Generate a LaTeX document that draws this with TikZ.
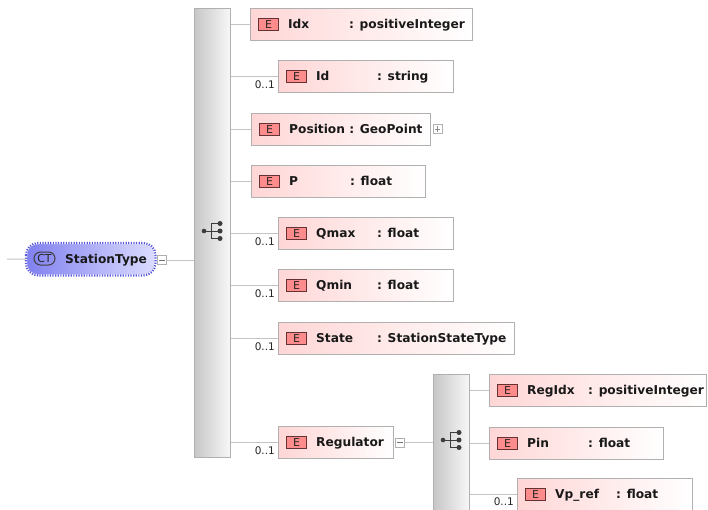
\documentclass[tikz,border=0pt]{standalone}
\usepackage{fontspec}
\setmainfont{DejaVu Sans}
\definecolor{pinkL}{RGB}{255,214,214}
\definecolor{boxline}{RGB}{176,176,176}
\definecolor{connc}{RGB}{196,196,196}
\definecolor{badgef}{RGB}{255,140,140}
\definecolor{badged}{RGB}{100,50,50}
\definecolor{ctL}{RGB}{128,128,240}
\definecolor{ctR}{RGB}{220,220,255}
\definecolor{ctB}{RGB}{90,90,220}
\definecolor{icon}{RGB}{60,60,60}
\newcommand\elemx[6]{%
  \node[elbox, minimum width=#4pt, anchor=north west] (#1) at (#2,#3) {};
  \node[ebadge, anchor=west] (#1E) at ([xshift=8]#1.west) {E};
  \node[elname, anchor=west] (#1N) at ([xshift=38]#1.west) {#5};
  \node[elname, anchor=west] (#1T) at ([xshift=99]#1.west) {#6};
}
\newcommand\elemone[5]{%
  \node[elbox, minimum width=#4pt, anchor=north west] (#1) at (#2,#3) {};
  \node[ebadge, anchor=west] (#1E) at ([xshift=8]#1.west) {E};
  \node[elname, anchor=west] (#1N) at ([xshift=38]#1.west) {#5};
}
\begin{document}
\begin{tikzpicture}[x=1pt,y=-1pt,
  conn/.style={draw=connc, line width=1pt},
  elbox/.style={draw=boxline, line width=1pt, left color=pinkL, right color=white, minimum height=32pt, inner sep=0pt},
  ebadge/.style={draw=badged, line width=1pt, fill=badgef, minimum width=20pt, minimum height=12pt, inner sep=0pt, font=\fontsize{11}{11}\selectfont, text=black!85},
  elname/.style={inner sep=0pt, font=\fontsize{12.2}{13}\selectfont\bfseries, text height=8.9pt, text depth=0pt, text=black!90},
  card/.style={inner sep=0pt, font=\fontsize{10.5}{10.5}\selectfont, text=black!85, anchor=base east},
  seqbar/.style={draw=boxline, line width=1pt, left color=black!22, right color=black!3, minimum width=36pt, inner sep=0pt, anchor=north west},
  expbox/.style={draw=boxline, line width=0.8pt, fill=white, minimum width=9pt, minimum height=9pt, inner sep=0pt},
  seqicon/.pic={
    \draw[icon, line width=1pt] (-8,0) -- (8,0);
    \draw[icon, line width=1pt] (-1,-7.5) -- (-1,7.5);
    \draw[icon, line width=1pt] (-1,-7.5) -- (8,-7.5);
    \draw[icon, line width=1pt] (-1,7.5) -- (8,7.5);
    \fill[icon] (-8,0) circle (2.3pt);
    \fill[icon] (8,-7.5) circle (2.5pt);
    \fill[icon] (8,0) circle (2.5pt);
    \fill[icon] (8,7.5) circle (2.5pt);
  }]
\useasboundingbox (0,0) rectangle (708,509);
\fill[white] (0,0) rectangle (708,509);
\clip (0,0) rectangle (708,509);

% root
\coordinate (in) at (7,259);
\node[rounded corners=12pt, left color=ctL, right color=ctR, minimum width=129pt, minimum height=32pt, inner sep=0pt, anchor=north west] (st) at (26,243) {};
\draw[white, line width=2.2pt, rounded corners=12pt] (st.north west) rectangle (st.south east);
\draw[ctB, line width=2.2pt, dash pattern=on 1.2pt off 1.4pt, rounded corners=12pt] (st.north west) rectangle (st.south east);
\node[draw=black!75, line width=1pt, rounded corners=6.5pt, minimum width=21pt, minimum height=13pt, inner sep=0pt, font=\fontsize{11}{11}\selectfont, text=black!85] (ct) at (44.5,258.5) {CT};
\node[elname, anchor=west] (stN) at (65,259) {StationType};
\node[expbox] (stm) at (162,260) {};
\draw[black!55, line width=0.8pt] ([xshift=2]stm.west) -- ([xshift=-2]stm.east);
\draw[conn] (in) -- (st.west);

% main sequence
\node[seqbar, minimum height=449pt] (seq) at (194,8) {};
\draw[conn] (stm.east) -- (stm.east -| seq.west);
\pic at (212,231) {seqicon};

% children
\elemx{idx}{250}{8}{222}{Idx}{: positiveInteger}
\elemx{id}{278}{60}{175}{Id}{: string}
\elemone{pos}{251}{113}{179}{Position : GeoPoint}
\elemx{p}{251}{165}{174}{P}{: float}
\elemx{qmax}{278}{217}{175}{Qmax}{: float}
\elemx{qmin}{278}{269}{175}{Qmin}{: float}
\elemx{state}{278}{322}{236}{State}{: StationStateType}
\elemone{reg}{278}{426}{115}{Regulator}

\node[expbox] (posp) at (437.5,129) {};
\draw[black!45, line width=0.8pt] ([xshift=2]posp.west) -- ([xshift=-2]posp.east);
\draw[black!45, line width=0.8pt] ([yshift=2]posp.south) -- ([yshift=-2]posp.north);

\foreach \n in {idx,id,pos,p,qmax,qmin,state,reg}{
  \draw[conn] (\n.west -| seq.east) -- (\n.west);
}
\foreach \n in {id,qmax,qmin,state,reg}{
  \node[card] (\n C) at ([xshift=-3,yshift=-12]\n.west) {0..1};
}

% regulator sequence
\node[expbox] (regm) at (400,442.5) {};
\draw[black!55, line width=0.8pt] ([xshift=2]regm.west) -- ([xshift=-2]regm.east);
\node[seqbar, minimum height=150pt] (seq2) at (433,374) {};
\draw[conn] (regm.east) -- (regm.east -| seq2.west);
\pic at (451,440) {seqicon};

\elemx{regidx}{489}{374}{217}{RegIdx}{: positiveInteger}
\elemx{pin}{489}{427}{174}{Pin}{: float}
\elemx{vp}{517}{478}{175}{Vp\_ref}{: float}
\foreach \n in {regidx,pin,vp}{
  \draw[conn] (\n.west -| seq2.east) -- (\n.west);
}
\node[card] (vpC) at ([xshift=-3,yshift=-11]vp.west) {0..1};
\end{tikzpicture}
\end{document}
